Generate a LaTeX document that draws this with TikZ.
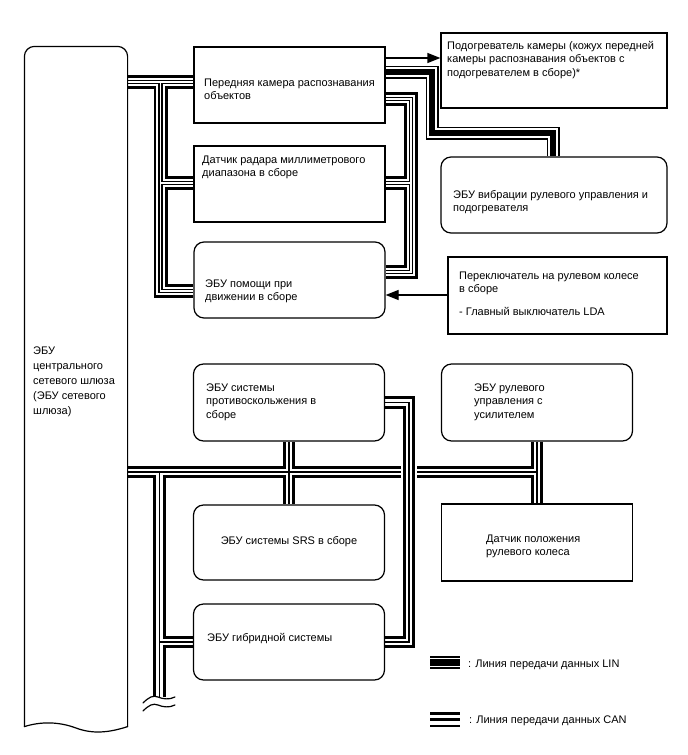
\documentclass[tikz,border=0pt]{standalone}
\usepackage{fontspec}
\setmainfont{Liberation Sans}
\usetikzlibrary{arrows.meta}
\newcommand\lbl{\fontsize{11}{13.5}\selectfont}
\newcommand\tb[2]{\parbox[t]{#1pt}{\raggedright #2}}
\begin{document}
\begin{tikzpicture}[x=1pt,y=-1pt,
  box/.style={draw, line width=1.2pt, fill=white, inner sep=0pt, minimum width=191pt, minimum height=76pt},
  rbox/.style={box, rounded corners=10pt},
  txt/.style={anchor=base west, inner sep=0pt, font=\lbl},
  q1/.style={line width=14pt, black, line join=miter},
  q2/.style={line width=8.4pt, white, line join=miter},
  q3/.style={line width=4.8pt, black, line join=miter},
  q4/.style={line width=1.8pt, white, line join=miter},
  c1/.style={line width=12.5pt, black, line join=miter},
  c2/.style={line width=6.8pt, white, line join=miter},
  c3/.style={line width=1.8pt, black, line join=miter},
  halo/.style={line width=16pt, white, line join=miter},
  l1/.style={line width=13pt, black, line join=miter},
  l2/.style={line width=9.6pt, white, line join=miter},
  l3/.style={line width=6.6pt, black, line join=miter},
  lc1/.style={line width=15pt, black},
  lc2/.style={line width=10pt, white},
  lc3/.style={line width=2.5pt, black},
  arr/.style={line width=1.2pt, -{Triangle[length=13pt,width=10pt]}},
  outl/.style={line width=1.2pt, line cap=round},
]
\useasboundingbox (0,0) rectangle (688,755);

% node geometry (no drawing yet)
\node[box, draw=none, fill=none, minimum width=102pt, minimum height=679pt] (gw) at (76,386.5) {};
\node[box, draw=none, fill=none] (cam) at (289.5,85) {};
\node[box, draw=none, fill=none] (radar) at (289.5,184) {};
\node[rbox, draw=none, fill=none] (assist) at (289.5,280) {};
\node[box, draw=none, fill=none, minimum width=226pt, minimum height=75pt] (heater) at (554,70.5) {};
\node[rbox, draw=none, fill=none, minimum width=226pt] (vib) at (554,195) {};
\node[box, draw=none, fill=none, minimum width=219pt, minimum height=77pt] (switch) at (557.5,295.5) {};
\node[rbox, draw=none, fill=none, minimum height=77pt] (skid) at (289,402.5) {};
\node[rbox, draw=none, fill=none, minimum height=77pt] (eps) at (537,402.5) {};
\node[box, draw=none, fill=none, minimum height=77pt] (sensor) at (537,542.5) {};
\node[rbox, draw=none, fill=none, minimum height=75pt] (srs) at (289,542.5) {};
\node[rbox, draw=none, fill=none] (hybrid) at (289,642) {};

\newcommand\quadpaths[1]{%
  \draw[#1] (gw.east |- 0,82) -- (cam.west |- 0,82);
  \draw[#1] (160.5,82) -- (160.5,291) -- (assist.west |- 0,291);
  \draw[#1] (160.5,183) -- (radar.west |- 0,183);
  \draw[#1] (cam.east |- 0,99) -- (411,99) -- (411,272) -- (assist.east |- 0,272);
  \draw[#1] (411,183) -- (radar.east |- 0,183);}
\newcommand\canpaths[1]{%
  \draw[#1] (gw.east |- 0,472) -- (537,472);
  \draw[#1] (eps.south) -- (sensor.north);
  \draw[#1] (skid.south) -- (srs.north);
  \draw[#1] (159.5,472) -- (159.5,697);
  \draw[#1] (159.5,642) -- (hybrid.west);}
\newcommand\crosspath[1]{%
  \draw[#1] (skid.east) -- (409,402.5) -- (409,642) -- (hybrid.east);}
\newcommand\linpath[1]{%
  \draw[#1] (cam.east |- 0,72) -- (432,72) -- (432,133) -- (553,133) -- (vib.north -| 553,0);}

\quadpaths{q1}\quadpaths{q2}\quadpaths{q3}\quadpaths{q4}
\canpaths{c1}\canpaths{c2}\canpaths{c3}
\crosspath{halo}\crosspath{c1}\crosspath{c2}\crosspath{c3}
\linpath{l1}\linpath{l2}\linpath{l3}

% boxes
\node[box] at (cam) {};
\node[box] at (radar) {};
\node[rbox] at (assist) {};
\node[box, minimum width=226pt, minimum height=75pt] at (heater) {};
\node[rbox, minimum width=226pt] at (vib) {};
\node[box, minimum width=219pt, minimum height=77pt] at (switch) {};
\node[rbox, minimum height=77pt] at (skid) {};
\node[rbox, minimum height=77pt] at (eps) {};
\node[box, minimum height=77pt] at (sensor) {};
\node[rbox, minimum height=75pt] at (srs) {};
\node[rbox] at (hybrid) {};

% gateway outline
\draw[outl, rounded corners=10pt] (gw.south west) -- (gw.north west) -- (gw.north east) -- (gw.south east);
\draw[outl] (gw.south east) .. controls (108,733) and (92,734) .. (76,728) .. controls (60,722) and (42,721) .. (gw.south west);

% texts
\node[txt] (gwtxt) at (33,354) {\fontsize{11}{15}\selectfont\tb{92}{ЭБУ\\центрального\\сетевого шлюза\\(ЭБУ сетевого\\шлюза)}};
\node[txt] (camtxt) at (204,86) {\tb{180}{Передняя камера распознавания\\объектов}};
\node[txt] (radartxt) at (202,163) {\tb{180}{Датчик радара миллиметрового\\диапазона в сборе}};
\node[txt] (assisttxt) at (205,287) {\tb{180}{ЭБУ помощи при\\движении в сборе}};
\node[txt] (heatertxt) at (447,49) {\tb{218}{Подогреватель камеры (кожух передней\\камеры распознавания объектов с\\подогревателем в сборе)*}};
\node[txt] (vibtxt) at (453,198) {\tb{212}{ЭБУ вибрации рулевого управления и\\подогревателя}};
\node[txt] (switchtxt) at (459,279) {\tb{205}{Переключатель на рулевом колесе\\в сборе\\[9pt]- Главный выключатель LDA}};
\node[txt] (skidtxt) at (206,391) {\tb{175}{ЭБУ системы\\противоскольжения в\\сборе}};
\node[txt] (epstxt) at (474,391) {\tb{150}{ЭБУ рулевого\\управления с\\усилителем}};
\node[txt] (sensortxt) at (486,542) {\tb{140}{Датчик положения\\рулевого колеса}};
\node[txt, anchor=base] (srstxt) at (289,544) {ЭБУ системы SRS в сборе};
\node[txt] (hybridtxt) at (207,641) {ЭБУ гибридной системы};

% arrows
\draw[arr] (cam.east |- 0,58) -- (heater.west |- 0,58);
\draw[arr] (switch.west |- 0,295) -- (assist.east |- 0,295);

% break mark
\draw[outl] (143,703) .. controls (149,697) and (153,695) .. (158,697) .. controls (163,699) and (169,700) .. (175,697);
\draw[outl] (143,711) .. controls (149,705) and (153,703) .. (158,705) .. controls (163,707) and (169,708) .. (175,705);

% legend
\coordinate (linA) at (430,662.5);
\coordinate (linB) at (460,662.5);
\coordinate (canA) at (430,719.5);
\coordinate (canB) at (460,719.5);
\draw[l1] (linA) -- (linB);
\draw[l2] (linA) -- (linB);
\draw[l3] (linA) -- (linB);
\draw[lc1] (canA) -- (canB);
\draw[lc2] (canA) -- (canB);
\draw[lc3] (canA) -- (canB);
\node[txt] (lintxt) at (468,667) {: Линия передачи данных LIN};
\node[txt] (cantxt) at (469,723) {: Линия передачи данных CAN};
\end{tikzpicture}
\end{document}
